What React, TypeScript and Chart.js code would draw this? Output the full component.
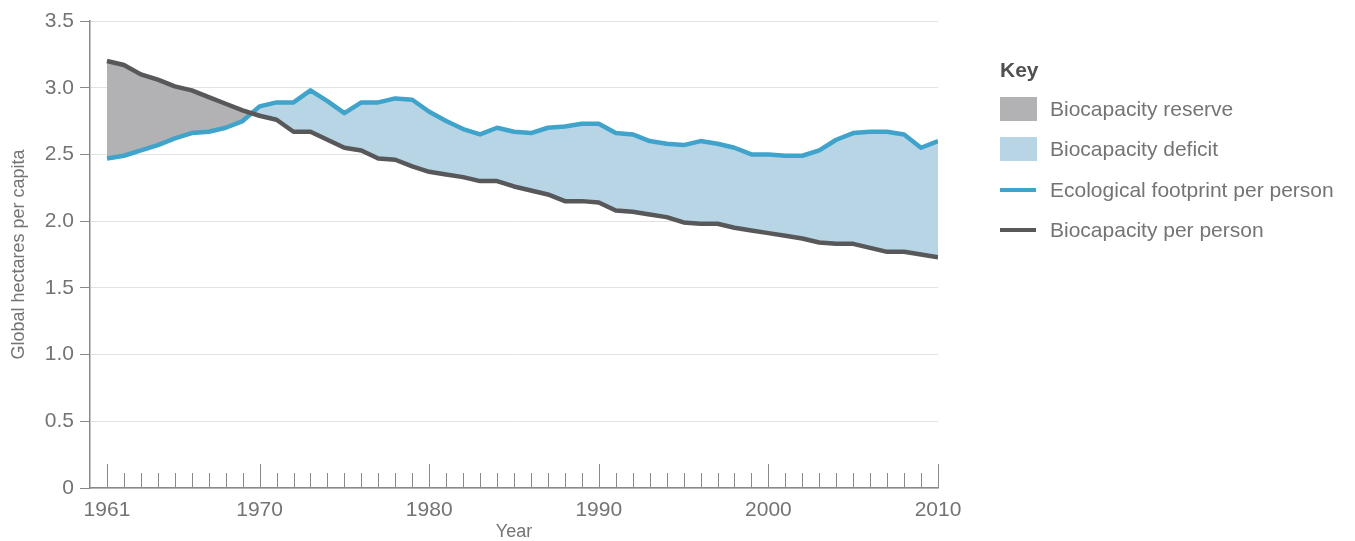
import React, { useEffect, useRef } from 'react';
import { Chart, registerables } from 'chart.js';

Chart.register(...registerables);

// ---------- data ----------
const years = [
  1961, 1962, 1963, 1964, 1965, 1966, 1967, 1968, 1969, 1970,
  1971, 1972, 1973, 1974, 1975, 1976, 1977, 1978, 1979, 1980,
  1981, 1982, 1983, 1984, 1985, 1986, 1987, 1988, 1989, 1990,
  1991, 1992, 1993, 1994, 1995, 1996, 1997, 1998, 1999, 2000,
  2001, 2002, 2003, 2004, 2005, 2006, 2007, 2008, 2009, 2010,
];

const footprintPerPerson = [
  2.47, 2.49, 2.53, 2.57, 2.62, 2.66, 2.67, 2.70, 2.75, 2.86,
  2.89, 2.89, 2.98, 2.90, 2.81, 2.89, 2.89, 2.92, 2.91, 2.82,
  2.75, 2.69, 2.65, 2.70, 2.67, 2.66, 2.70, 2.71, 2.73, 2.73,
  2.66, 2.65, 2.60, 2.58, 2.57, 2.60, 2.58, 2.55, 2.50, 2.50,
  2.49, 2.49, 2.53, 2.61, 2.66, 2.67, 2.67, 2.65, 2.55, 2.60,
];

const biocapacityPerPerson = [
  3.20, 3.17, 3.10, 3.06, 3.01, 2.98, 2.93, 2.88, 2.83, 2.79,
  2.76, 2.67, 2.67, 2.61, 2.55, 2.53, 2.47, 2.46, 2.41, 2.37,
  2.35, 2.33, 2.30, 2.30, 2.26, 2.23, 2.20, 2.15, 2.15, 2.14,
  2.08, 2.07, 2.05, 2.03, 1.99, 1.98, 1.98, 1.95, 1.93, 1.91,
  1.89, 1.87, 1.84, 1.83, 1.83, 1.80, 1.77, 1.77, 1.75, 1.73,
];

const labeledYears = [1961, 1970, 1980, 1990, 2000, 2010];
const yTickValues = [0, 0.5, 1.0, 1.5, 2.0, 2.5, 3.0, 3.5];

const legendTitle = 'Key';
const legendAreaLabels = ['Biocapacity reserve', 'Biocapacity deficit'];
const legendLineLabels = ['Ecological footprint per person', 'Biocapacity per person'];

// ---------- styles ----------
const BLUE = '#3fa3cb';
const DARK = '#58585a';
const RESERVE = '#b2b2b4';
const DEFICIT = '#b8d5e5';
const AXIS = '#8a8a8c';
const GRID = '#e3e3e3';
const TEXT = '#747477';
const FONT = '"Liberation Sans", Helvetica, Arial, sans-serif';

const yearTicksPlugin = {
  id: 'yearTicks',
  afterDatasetsDraw(chart: any) {
    const { ctx, scales } = chart;
    const x = scales.x;
    const y = scales.y;
    const base = y.getPixelForValue(0);
    ctx.save();
    ctx.strokeStyle = AXIS;
    ctx.lineWidth = 1;
    years.forEach((yr) => {
      const px = Math.round(x.getPixelForValue(yr)) + 0.5;
      const len = labeledYears.includes(yr) ? 24 : 15;
      ctx.beginPath();
      ctx.moveTo(px, base);
      ctx.lineTo(px, base - len);
      ctx.stroke();
    });
    ctx.restore();
  },
};

function ChartCanvas() {
  const ref = useRef<HTMLCanvasElement | null>(null);
  useEffect(() => {
    if (!ref.current) return;
    const chart = new Chart(ref.current, {
      type: 'line',
      data: {
        datasets: [
          {
            label: legendLineLabels[1],
            data: years.map((yr, i) => ({ x: yr, y: biocapacityPerPerson[i] })),
            borderColor: DARK,
            borderWidth: 4.5,
            pointRadius: 0,
            tension: 0,
            fill: false,
            borderJoinStyle: 'round',
            borderCapStyle: 'butt',
          },
          {
            label: legendLineLabels[0],
            data: years.map((yr, i) => ({ x: yr, y: footprintPerPerson[i] })),
            borderColor: BLUE,
            borderWidth: 4.5,
            pointRadius: 0,
            tension: 0,
            fill: { target: 0, above: DEFICIT, below: RESERVE },
            borderJoinStyle: 'round',
            borderCapStyle: 'butt',
          },
        ],
      },
      options: {
        animation: false,
        responsive: false,
        devicePixelRatio: 1,
        layout: { padding: { top: 21, right: 417, left: 0, bottom: 0 } },
        plugins: {
          legend: { display: false },
          tooltip: { enabled: false },
        },
        scales: {
          x: {
            type: 'linear',
            min: 1960,
            max: 2010,
            afterBuildTicks: (s: any) => {
              s.ticks = years.map((v) => ({ value: v }));
            },
            afterFit: (s: any) => {
              s.height = 53;
            },
            ticks: {
              autoSkip: false,
              maxRotation: 0,
              padding: 10,
              color: TEXT,
              font: { family: FONT, size: 21 },
              callback: (v: any) => (labeledYears.includes(Number(v)) ? String(v) : ''),
            },
            grid: { display: false, drawTicks: false },
            border: { display: true, color: AXIS, width: 1.5 },
            title: {
              display: true,
              text: 'Year',
              color: TEXT,
              font: { family: FONT, size: 18 },
              padding: { top: 0, bottom: -2 },
            },
          },
          y: {
            min: 0,
            max: 3.5,
            afterBuildTicks: (s: any) => {
              s.ticks = yTickValues.map((v) => ({ value: v }));
            },
            afterFit: (s: any) => {
              s.width = 90;
            },
            ticks: {
              padding: 6,
              color: TEXT,
              font: { family: FONT, size: 21 },
              callback: (v: any) => (Number(v) === 0 ? '0' : Number(v).toFixed(1)),
            },
            grid: { color: GRID, tickColor: AXIS, tickLength: 10, lineWidth: 1 },
            border: { display: true, color: AXIS, width: 1.5 },
            title: {
              display: true,
              text: 'Global hectares per capita',
              color: TEXT,
              font: { family: FONT, size: 18 },
              padding: { top: 8, bottom: 0 },
            },
          },
        },
      },
      plugins: [yearTicksPlugin],
    } as any);
    return () => chart.destroy();
  }, []);
  return <canvas ref={ref} width={1355} height={541} style={{ display: 'block' }} />;
}

function Legend() {
  const boxColors = [RESERVE, DEFICIT];
  const lineColors = [BLUE, DARK];
  const rowCenters = [109, 149, 190, 230];
  const textStyle: React.CSSProperties = {
    position: 'absolute',
    left: 1050,
    fontFamily: FONT,
    fontSize: 21,
    lineHeight: '26px',
    height: 26,
    color: TEXT,
    whiteSpace: 'nowrap',
  };
  return (
    <>
      <div
        style={{
          position: 'absolute',
          left: 1000,
          top: 57,
          fontFamily: FONT,
          fontWeight: 'bold',
          fontSize: 21,
          lineHeight: '26px',
          color: '#505052',
        }}
      >
        {legendTitle}
      </div>
      {legendAreaLabels.map((lab, i) => (
        <React.Fragment key={lab}>
          <div
            style={{
              position: 'absolute',
              left: 1000,
              top: rowCenters[i] - 12,
              width: 37,
              height: 24,
              background: boxColors[i],
            }}
          />
          <div style={{ ...textStyle, top: rowCenters[i] - 13 }}>{lab}</div>
        </React.Fragment>
      ))}
      {legendLineLabels.map((lab, i) => (
        <React.Fragment key={lab}>
          <div
            style={{
              position: 'absolute',
              left: 1000,
              top: rowCenters[i + 2] - 2,
              width: 36,
              height: 4,
              background: lineColors[i],
            }}
          />
          <div style={{ ...textStyle, top: rowCenters[i + 2] - 13 }}>{lab}</div>
        </React.Fragment>
      ))}
    </>
  );
}

export default function App() {
  return (
    <div
      style={{
        position: 'fixed',
        left: 0,
        top: 0,
        width: 1355,
        height: 541,
        background: '#ffffff',
        overflow: 'hidden',
      }}
    >
      <ChartCanvas />
      <Legend />
    </div>
  );
}
